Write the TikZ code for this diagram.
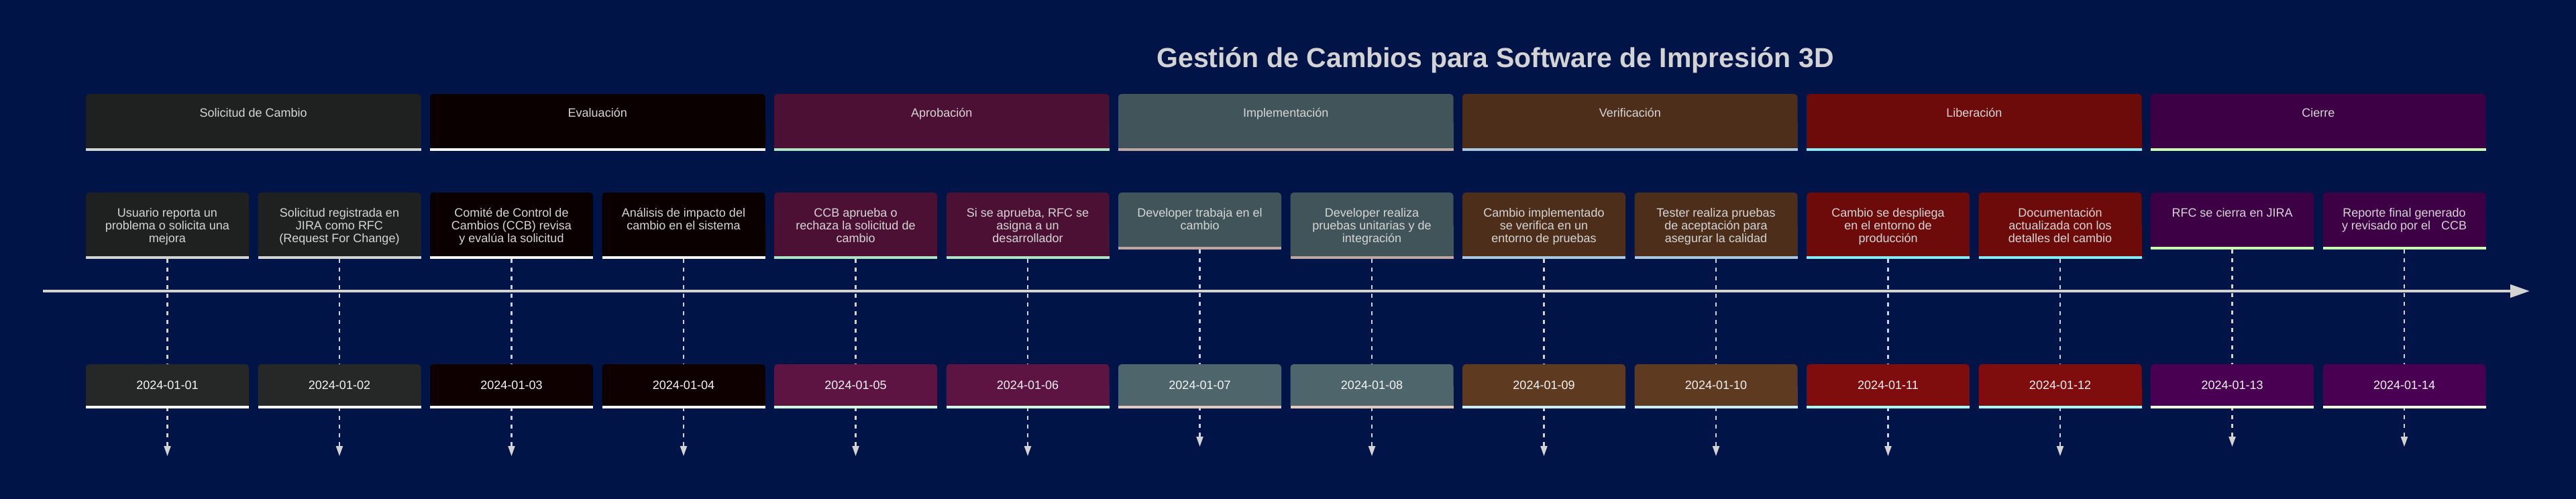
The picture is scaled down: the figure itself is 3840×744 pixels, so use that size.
\documentclass[tikz,border=0pt]{standalone}
\usepackage{fontspec}
\setmainfont{Liberation Sans}
\usetikzlibrary{arrows.meta,calc}

\definecolor{bg}{RGB}{0,20,71}
\definecolor{lgray}{RGB}{211,211,211}
\definecolor{txtgray}{RGB}{214,214,214}
\definecolor{datetxt}{RGB}{246,246,246}
% section / task fills
\definecolor{s1}{RGB}{31,32,32}
\definecolor{s2}{RGB}{10,0,0}
\definecolor{s3}{RGB}{77,16,53}
\definecolor{s4}{RGB}{64,84,89}
\definecolor{s5}{RGB}{77,46,27}
\definecolor{s6}{RGB}{109,10,10}
\definecolor{s7}{RGB}{61,0,68}
% date fills
\definecolor{d1}{RGB}{38,40,40}
\definecolor{d2}{RGB}{14,0,0}
\definecolor{d3}{RGB}{93,20,66}
\definecolor{d4}{RGB}{77,101,107}
\definecolor{d5}{RGB}{94,58,32}
\definecolor{d6}{RGB}{128,13,13}
\definecolor{d7}{RGB}{74,0,82}
% bars under sections / tasks
\definecolor{b1}{RGB}{211,211,211}
\definecolor{b2}{RGB}{248,248,255}
\definecolor{b3}{RGB}{172,230,196}
\definecolor{b4}{RGB}{190,166,162}
\definecolor{b5}{RGB}{170,200,226}
\definecolor{b6}{RGB}{132,236,245}
\definecolor{b7}{RGB}{200,255,176}
% bars under dates
\definecolor{e1}{RGB}{255,255,255}
\definecolor{e2}{RGB}{255,255,255}
\definecolor{e3}{RGB}{206,255,226}
\definecolor{e4}{RGB}{230,202,192}
\definecolor{e5}{RGB}{200,240,255}
\definecolor{e6}{RGB}{162,255,255}
\definecolor{e7}{RGB}{236,255,216}

\newcommand\tlbox[7]{%
  \node[boxshape, minimum width=#4*0.5pt, minimum height=#5*0.5pt, anchor=north west] (#1) at (#2,#3) {};
  \fill[#6, rounded corners=2.5pt] (#1.north west) rectangle (#1.south east);
  \fill[#6] (#1.west) rectangle (#1.south east);
  \fill[#7] ($(#1.south west)+(0,-4)$) rectangle (#1.south east);
}

\tikzset{
  boxshape/.style={rectangle, inner sep=0pt, outer sep=0pt, draw=none},
  titletext/.style={text=lgray, font=\fontsize{20.5}{24}\selectfont\bfseries, inner sep=0pt},
  sectext/.style={text=txtgray, font=\fontsize{9}{11}\selectfont, inner sep=0pt},
  tasktext/.style={text=txtgray, font=\fontsize{9}{9.65}\selectfont, inner sep=0pt},
  datetext/.style={text=datetxt, font=\fontsize{9}{11}\selectfont, inner sep=0pt},
  timeline/.style={draw=lgray, line width=2pt, -{Triangle[length=14.5pt,width=9.5pt]}},
  conn/.style={draw=lgray, line width=1.1pt, dash pattern=on 3pt off 3.5pt, -{Triangle[length=7.5pt,width=5pt]}},
}

\begin{document}
\begin{tikzpicture}[x=0.5pt,y=-0.5pt]
\useasboundingbox[fill=bg] (0,0) rectangle (3840,744);

\node[titletext, anchor=base] (title) at (2229,100) {Gestión de Cambios para Software de Impresión 3D};

% sections
\foreach \k/\nm in {1/Solicitud de Cambio, 2/Evaluación, 3/Aprobación, 4/Implementación, 5/Verificación, 6/Liberación, 7/Cierre}{
  \pgfmathsetmacro\xl{128+(\k-1)*513}
  \tlbox{sec\k}{\xl}{140}{499.5}{85}{s\k}{b\k}
  \node[sectext, anchor=base] (st\k) at (\xl+249.75,174) {\nm};
}

% timeline axis
\coordinate (axstart) at (64,434);
\coordinate (axend) at (3771,434);
\draw[timeline] (axstart) -- (axend);

% tasks
\foreach \i/\sc/\hh/\txt in {
 1/1/99/{Usuario reporta un\\problema o solicita una\\mejora},
 2/1/99/{Solicitud registrada en\\JIRA como RFC\\(Request For Change)},
 3/2/99/{Comité de Control de\\Cambios (CCB) revisa\\y evalúa la solicitud},
 4/2/99/{Análisis de impacto del\\cambio en el sistema},
 5/3/99/{CCB aprueba o\\rechaza la solicitud de\\cambio},
 6/3/99/{Si se aprueba, RFC se\\asigna a un\\desarrollador},
 7/4/85/{Developer trabaja en el\\cambio},
 8/4/99/{Developer realiza\\pruebas unitarias y de\\integración},
 9/5/99/{Cambio implementado\\se verifica en un\\entorno de pruebas},
 10/5/99/{Tester realiza pruebas\\de aceptación para\\asegurar la calidad},
 11/6/99/{Cambio se despliega\\en el entorno de\\producción},
 12/6/99/{Documentación\\actualizada con los\\detalles del cambio},
 13/7/85/{RFC se cierra en JIRA},
 14/7/85/{Reporte final generado\\y revisado por el\hspace{8pt}CCB}}{
  \pgfmathsetmacro\xl{128+(\i-1)*256.5}
  \pgfmathsetmacro\tip{581+\hh}
  \coordinate (tip\i) at (\xl+121.5,\tip);
  \tlbox{t\i}{\xl}{287}{243}{\hh}{s\sc}{b\sc}
  \node[tasktext, anchor=base] (tt\i) at (\xl+121.5,323.3) {\begin{tabular}[t]{@{}c@{}}\txt\end{tabular}};
  \draw[conn] (t\i.south) -- (tip\i);
}

% dates
\foreach \i/\sc/\dd in {1/1/01,2/1/02,3/2/03,4/2/04,5/3/05,6/3/06,7/4/07,8/4/08,9/5/09,10/5/10,11/6/11,12/6/12,13/7/13,14/7/14}{
  \pgfmathsetmacro\xl{128+(\i-1)*256.5}
  \tlbox{dt\i}{\xl}{543}{243}{66}{d\sc}{e\sc}
  \node[datetext, anchor=base] (dtx\i) at (\xl+121.5,580) {2024-01-\dd};
}
\end{tikzpicture}
\end{document}
